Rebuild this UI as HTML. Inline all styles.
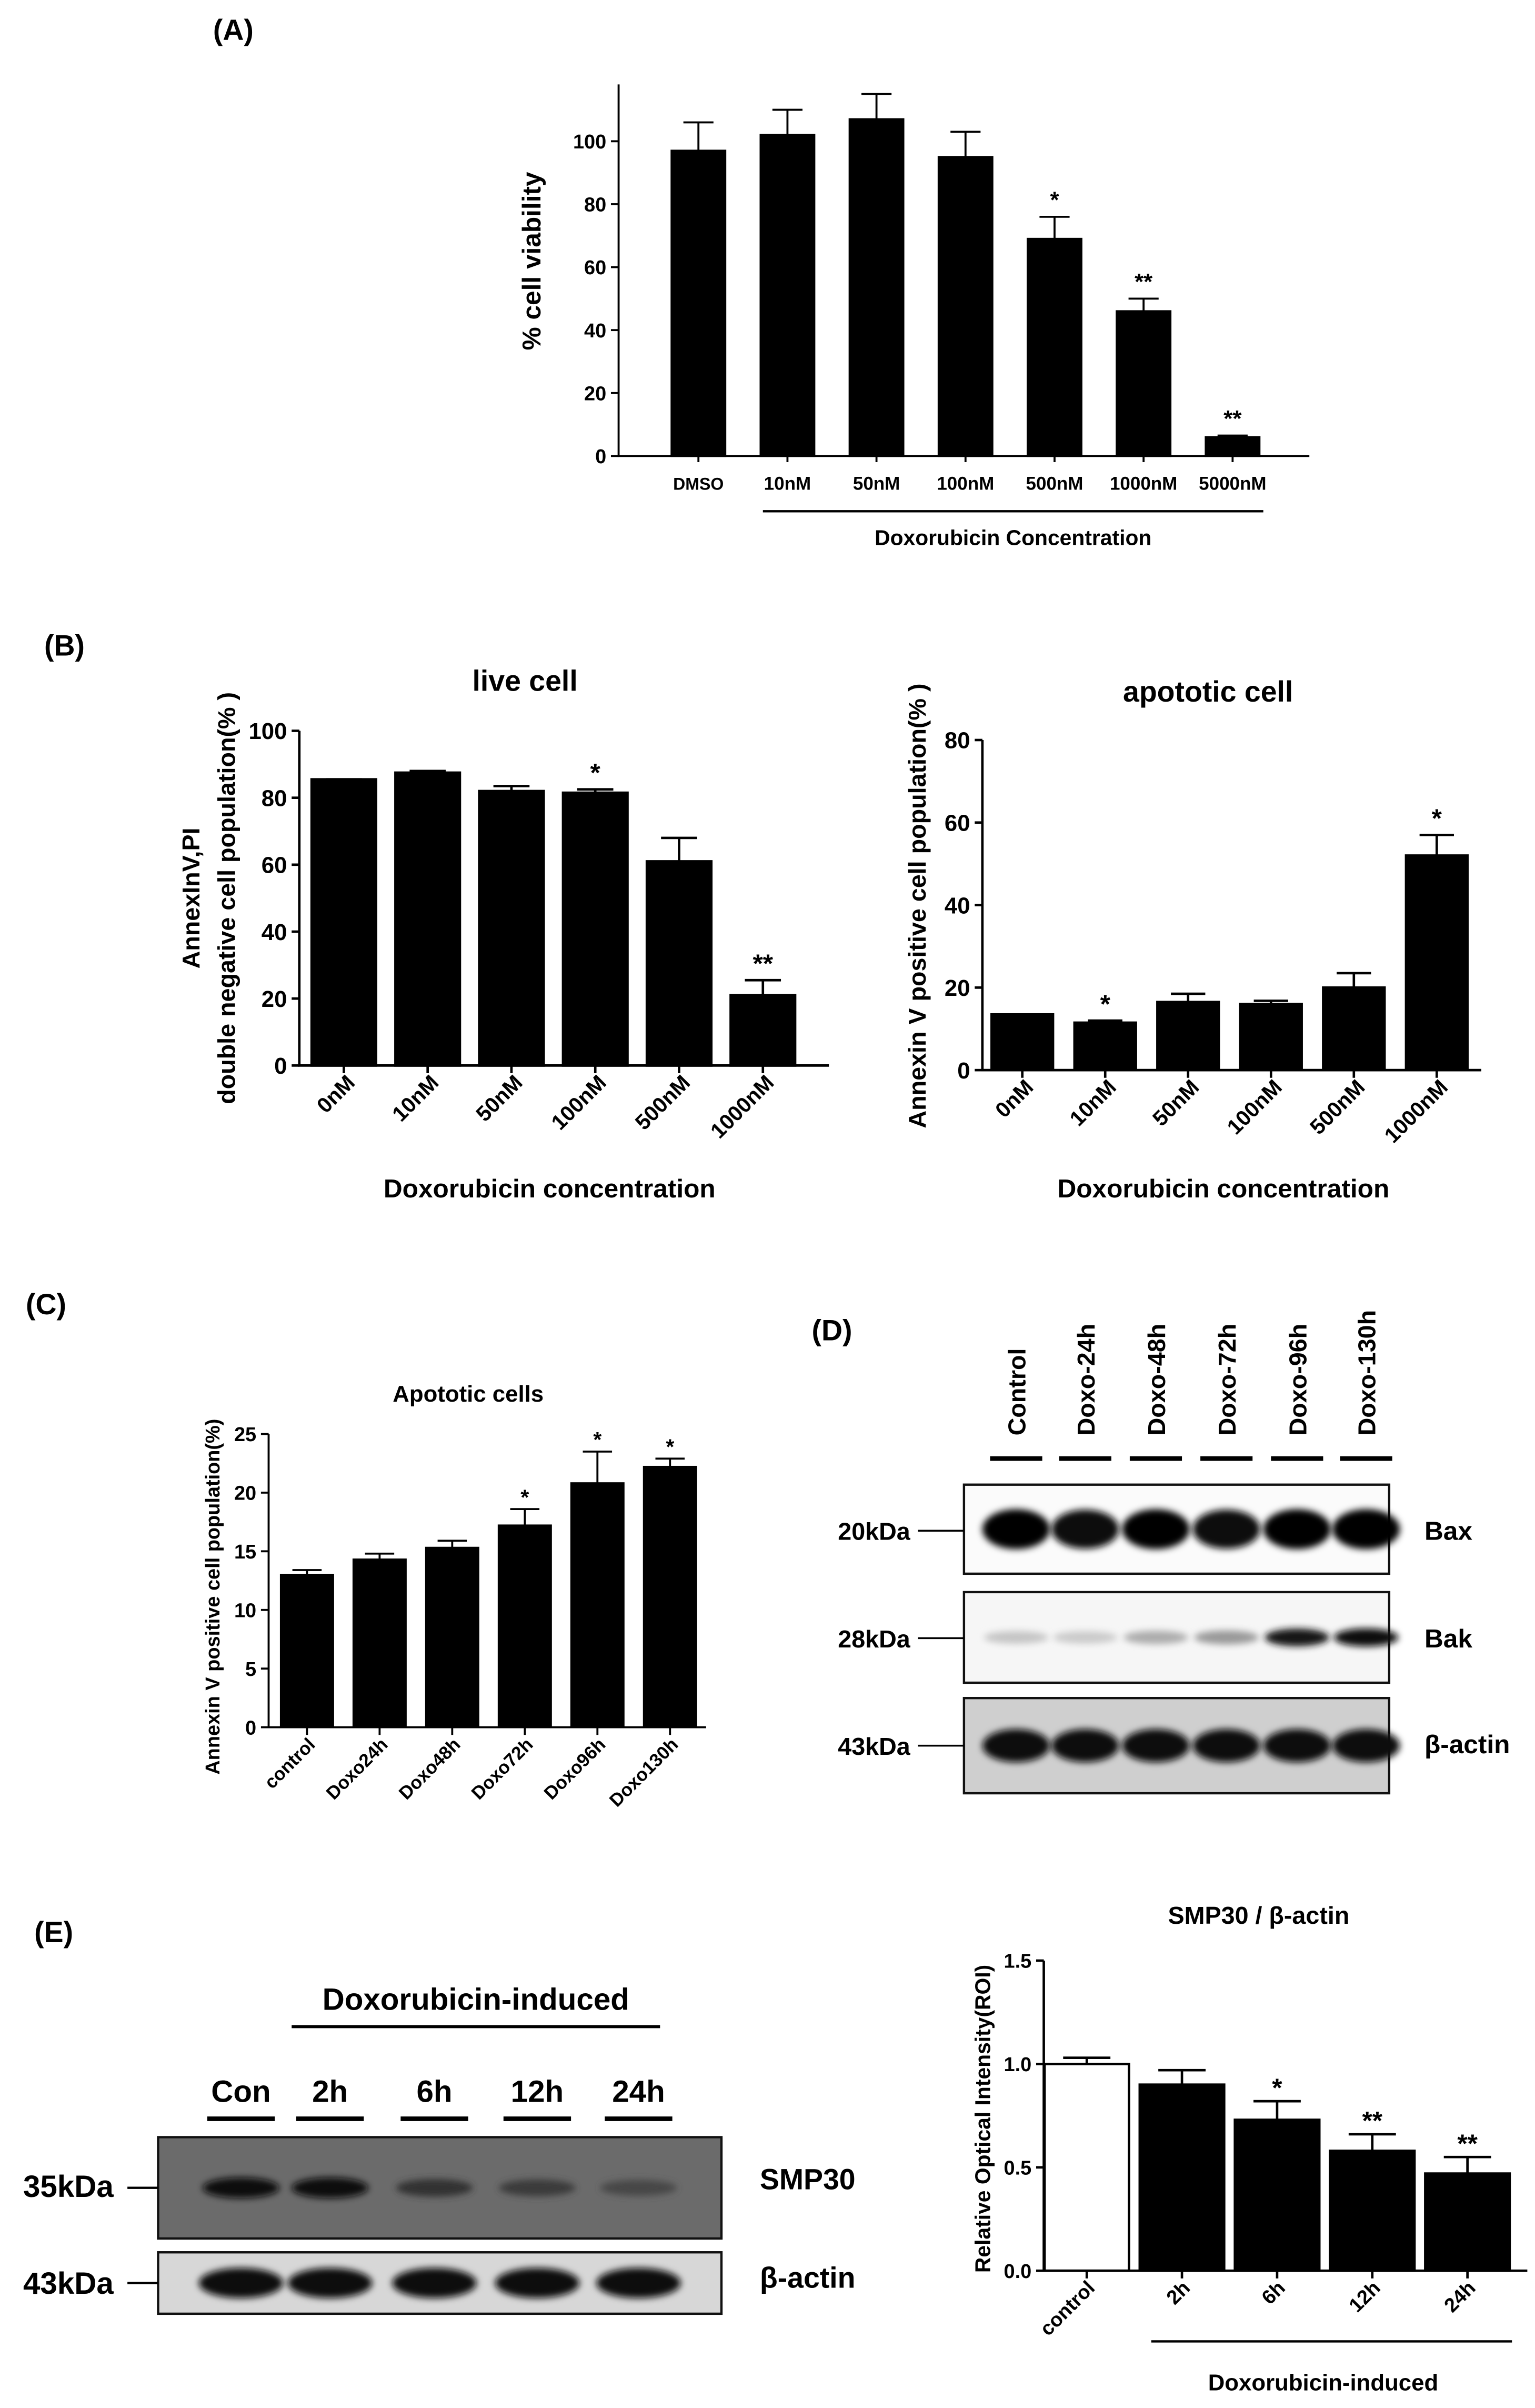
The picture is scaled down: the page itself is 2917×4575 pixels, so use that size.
<!DOCTYPE html>
<html><head><meta charset="utf-8"><style>
html,body{margin:0;padding:0;background:#fff;}
svg{display:block;}
text{font-family:"Liberation Sans","DejaVu Sans",sans-serif;font-weight:bold;fill:#000;}
.n{font-family:"Liberation Sans Narrow","Liberation Sans",sans-serif;}
</style></head><body>
<svg id="fig" xmlns="http://www.w3.org/2000/svg" width="2917" height="4575" viewBox="0 0 1000 1568.4">
<defs>
<filter id="blur" x="-20%" y="-50%" width="140%" height="200%"><feGaussianBlur stdDeviation="2.2"/></filter>
</defs>
<g id="root"></g>
</svg>
<script>
// Panel A
const aCats=["DMSO","10nM","50nM","100nM","500nM","1000nM","5000nM"];
const aVals=[97,102,107,95,69,46,6];
const aErr=[106,110,115,103,76,50,6.5];
const aStars=["","","","","*","**","**"];
const aTicks=[0,20,40,60,80,100];
// Panel B left
const bCats=["0nM","10nM","50nM","100nM","500nM","1000nM"];
const bLiveVals=[85.5,87.5,82,81.5,61,21];
const bLiveErr=[85.5,88,83.5,82.5,68,25.5];
const bLiveStars=["","","","*","","**"];
const bLiveTicks=[0,20,40,60,80,100];
// Panel B right
const bApoVals=[13.5,11.5,16.5,16,20,52];
const bApoErr=[13.5,12,18.5,16.8,23.5,57];
const bApoStars=["","*","","","","*"];
const bApoTicks=[0,20,40,60,80];
// Panel C
const cCats=["control","Doxo24h","Doxo48h","Doxo72h","Doxo96h","Doxo130h"];
const cVals=[13,14.3,15.3,17.2,20.8,22.2];
const cErr=[13.4,14.8,15.9,18.6,23.5,22.9];
const cStars=["","","","*","*","*"];
const cTicks=[0,5,10,15,20,25];
// Panel E chart
const eCats=["control","2h","6h","12h","24h"];
const eVals=[1.0,0.9,0.73,0.58,0.47];
const eErr=[1.03,0.97,0.82,0.66,0.55];
const eStars=["","","*","**","**"];
const eTicks=[0.0,0.5,1.0,1.5];
const eTickLabels=["0.0","0.5","1.0","1.5"];
// Blot intensities
const dLanes=["Control","Doxo-24h","Doxo-48h","Doxo-72h","Doxo-96h","Doxo-130h"];
const baxInt=[1,0.95,1,0.95,1,1];
const bakInt=[0.2,0.18,0.3,0.38,0.9,0.95];
const actInt=[0.95,0.95,0.95,0.95,0.95,0.95];
const eLanes=["Con","2h","6h","12h","24h"];
const smpInt=[0.9,0.9,0.55,0.45,0.35];
const eActInt=[0.95,0.95,0.95,0.95,0.95];

const NS="http://www.w3.org/2000/svg";
const root=document.getElementById('root');
function el(tag,attrs,parent,txt){
  const e=document.createElementNS(NS,tag);
  for(const k in attrs)e.setAttribute(k,attrs[k]);
  if(txt!==undefined)e.textContent=txt;
  (parent||root).appendChild(e);return e;
}
function text(x,y,s,size,extra,parent,name){
  const t=el('text',Object.assign({x:x,y:y,'font-size':size,'text-anchor':'middle'},extra||{}),parent,s);
  
  
  return t;
}
function chart(o){
  const g=el('g',{});
  
  
  const yS=v=>o.y0-(v-o.ymin)/(o.ymax-o.ymin)*(o.y0-o.ytop);
  const xS=i=>o.x0+o.first+i*o.step;
  const sw=o.sw||1.6;
  o.vals.forEach((v,i)=>{
    const cx=xS(i);
    const ey=yS(o.err[i]);
    const eb=el('path',{d:`M${cx},${yS(v)} V${ey} M${cx-o.bw*0.28},${ey} H${cx+o.bw*0.28}`,stroke:'#000','stroke-width':sw,fill:'none'},g);
    
    
    const r=el('rect',{x:cx-o.bw/2,y:yS(v),width:o.bw,height:o.y0-yS(v),fill:(o.fills&&o.fills[i])||'#000',stroke:'#000','stroke-width':sw},g);
    
    
    if(o.stars[i])text(cx,ey-o.starGap,o.stars[i],o.starSize,{},g,'significance-star');
    el('line',{x1:cx,x2:cx,y1:o.y0,y2:o.y0+(o.xtick||5),stroke:'#000','stroke-width':sw},g);
    if(o.rot){
      const lx=cx+(o.rdx||4), ly=o.y0+o.labOff;
      text(lx,ly,o.cats[i],o.labSize,{'text-anchor':'end',transform:`rotate(-45 ${lx} ${ly})`},g,'x-tick-label');
    } else text(cx,o.y0+o.labOff,o.cats[i],(o.labSizes&&o.labSizes[i])||o.labSize,{},g,'x-tick-label');
  });
  const ax=el('path',{d:`M${o.x0},${o.axTop} V${o.y0} H${o.xEnd}`,stroke:'#000','stroke-width':sw,fill:'none'},g);
  
  
  o.ticks.forEach((t,i)=>{
    const y=yS(t);
    el('line',{x1:o.x0-5,x2:o.x0,y1:y,y2:y,stroke:'#000','stroke-width':sw},g);
    text(o.x0-8,y+o.tickSize*0.36,o.tickLabels?o.tickLabels[i]:String(t),o.tickSize,{'text-anchor':'end','class':'n'},g,'y-tick-label');
  });
  return g;
}
function blot(x,y,w,h,bgLevel,lanesX,ints,bandW,bandH,name){
  const g=el('g',{});
  
  
  el('rect',{x:x,y:y,width:w,height:h,fill:`rgb(${bgLevel},${bgLevel},${bgLevel})`,stroke:'#111','stroke-width':1.5},g);
  ints.forEach((v,i)=>{
    const c=Math.round(bgLevel*(1-v));
    const b=el('ellipse',{cx:lanesX[i],cy:y+h/2,rx:bandW/2,ry:bandH*(0.6+0.4*v)/2,fill:`rgb(${c},${c},${c})`,filter:'url(#blur)'},g);
    
    
  });
  return g;
}

// ---------- Panel A ----------
text(152,26,"(A)",19,{},null,'panel-a-label');
chart({name:'viability-chart',cats:aCats,vals:aVals,err:aErr,stars:aStars,ticks:aTicks,
  x0:403,y0:297,ytop:92,ymin:0,ymax:100,axTop:55,xEnd:853,first:52,step:58,bw:35,
  starGap:6,starSize:15,tickSize:13,labOff:22,labSize:12,labSizes:[11,12,12,12,12,12,12],sw:1.3,xtick:4});
el('line',{x1:497,x2:823,y1:333,y2:333,stroke:'#000','stroke-width':1.5});
text(660,355,"Doxorubicin Concentration",14,{},null,'x-axis-title');
text(352,170,"% cell viability",17,{transform:'rotate(-90 352 170)','font-weight':'normal'},null,'y-axis-title');

// ---------- Panel B ----------
text(42,427,"(B)",19,{},null,'panel-b-label');
chart({name:'live-cell-chart',cats:bCats,vals:bLiveVals,err:bLiveErr,stars:bLiveStars,ticks:bLiveTicks,
  x0:195,y0:694,ytop:476,ymin:0,ymax:100,axTop:476,xEnd:540,first:29,step:54.6,bw:42,
  starGap:5,starSize:17,tickSize:15,labOff:12,labSize:14,rot:true,rdx:8});
text(342,450,"live cell",19,{'class':'n'},null,'chart-title');
text(358,780,"Doxorubicin concentration",17,{'class':'n'},null,'x-axis-title');
text(130,585,"AnnexInV,PI",16,{transform:'rotate(-90 130 585)','class':'n'},null,'y-axis-title');
text(153,585,"double negative cell population(% )",16,{transform:'rotate(-90 153 585)','class':'n'},null,'y-axis-title');

chart({name:'apoptotic-cell-chart',cats:bCats,vals:bApoVals,err:bApoErr,stars:bApoStars,ticks:bApoTicks,
  x0:640,y0:697,ytop:482,ymin:0,ymax:80,axTop:482,xEnd:965,first:26,step:54,bw:40,
  starGap:5,starSize:17,tickSize:15,labOff:12,labSize:14,rot:true,rdx:8});
text(787,457,"apototic cell",19,{'class':'n'},null,'chart-title');
text(797,780,"Doxorubicin concentration",17,{'class':'n'},null,'x-axis-title');
text(603,590,"Annexin V positive cell population(% )",16,{transform:'rotate(-90 603 590)','class':'n'},null,'y-axis-title');

// ---------- Panel C ----------
text(30,856,"(C)",19,{},null,'panel-c-label');
chart({name:'apoptotic-cells-time-chart',cats:cCats,vals:cVals,err:cErr,stars:cStars,ticks:cTicks,
  x0:175,y0:1125,ytop:934,ymin:0,ymax:25,axTop:934,xEnd:460,first:25,step:47.3,bw:34,
  starGap:3,starSize:14,tickSize:13,labOff:12,labSize:12,rot:true,rdx:6,sw:1.3});
text(305,913,"Apototic cells",15,{},null,'chart-title');
text(143,1040,"Annexin V positive cell population(%)",13,{transform:'rotate(-90 143 1040)','class':'n'},null,'y-axis-title');

// ---------- Panel D ----------
text(542,873,"(D)",19,{},null,'panel-d-label');
const dX=[662,707,753,799,845,890];
dLanes.forEach((l,i)=>{
  text(dX[i]+6,935,l,16,{'text-anchor':'start',transform:`rotate(-90 ${dX[i]+6} 935)`,'font-weight':'normal','class':'n'},null,'lane-label');
  el('line',{x1:dX[i]-17,x2:dX[i]+17,y1:950,y2:950,stroke:'#000','stroke-width':3});
});
blot(628,967,277,58,251,dX,baxInt,44,26,'bax-blot');
blot(628,1037,277,59,246,dX,bakInt,42,12,'bak-blot');
blot(628,1106,277,62,207,dX,actInt,44,22,'actin-blot');
[["20kDa",997],["28kDa",1067],["43kDa",1137]].forEach(p=>{
  text(593,p[1]+6,p[0],16,{'text-anchor':'end'},null,'mw-label');
  el('line',{x1:598,x2:628,y1:p[1],y2:p[1],stroke:'#000','stroke-width':1.2});
});
text(928,1003,"Bax",17,{'text-anchor':'start'},null,'protein-label');
text(928,1073,"Bak",17,{'text-anchor':'start'},null,'protein-label');
text(928,1142,"β-actin",17,{'text-anchor':'start'},null,'protein-label');

// ---------- Panel E ----------
text(35,1265,"(E)",19,{},null,'panel-e-label');
text(310,1309,"Doxorubicin-induced",20,{'class':'n'},null,'group-label');
el('line',{x1:190,x2:430,y1:1320,y2:1320,stroke:'#000','stroke-width':2});
const eX=[157,215,283,350,416];
eLanes.forEach((l,i)=>{
  text(eX[i],1369,l,20,{'class':'n'},null,'lane-label');
  el('line',{x1:eX[i]-22,x2:eX[i]+22,y1:1380,y2:1380,stroke:'#000','stroke-width':3});
});
blot(103,1392,367,66,107,eX,smpInt,50,14,'smp30-blot');
blot(103,1467,367,40,215,eX,eActInt,55,20,'actin-blot-e');
text(74,1431,"35kDa",20,{'text-anchor':'end','class':'n'},null,'mw-label');
text(74,1494,"43kDa",20,{'text-anchor':'end','class':'n'},null,'mw-label');
el('line',{x1:83,x2:103,y1:1425,y2:1425,stroke:'#000','stroke-width':1.5});
el('line',{x1:83,x2:103,y1:1487,y2:1487,stroke:'#000','stroke-width':1.5});
text(495,1426,"SMP30",19,{'text-anchor':'start'},null,'protein-label');
text(495,1490,"β-actin",19,{'text-anchor':'start'},null,'protein-label');

chart({name:'smp30-ratio-chart',cats:eCats,vals:eVals,err:eErr,stars:eStars,ticks:eTicks,tickLabels:eTickLabels,
  x0:680,y0:1479,ytop:1277,ymin:0,ymax:1.5,axTop:1277,xEnd:995,first:28,step:62,bw:55,
  fills:['#fff'],starGap:3,starSize:17,tickSize:13,labOff:12,labSize:13,rot:true,rdx:6,sw:1.6});
text(820,1253,"SMP30 / β-actin",16,{},null,'chart-title');
text(645,1380,"Relative Optical Intensity(ROI)",14,{transform:'rotate(-90 645 1380)','class':'n'},null,'y-axis-title');
el('line',{x1:750,x2:985,y1:1525,y2:1525,stroke:'#000','stroke-width':1.5});
text(862,1557,"Doxorubicin-induced",15,{},null,'x-axis-title');
</script>
</body></html>
